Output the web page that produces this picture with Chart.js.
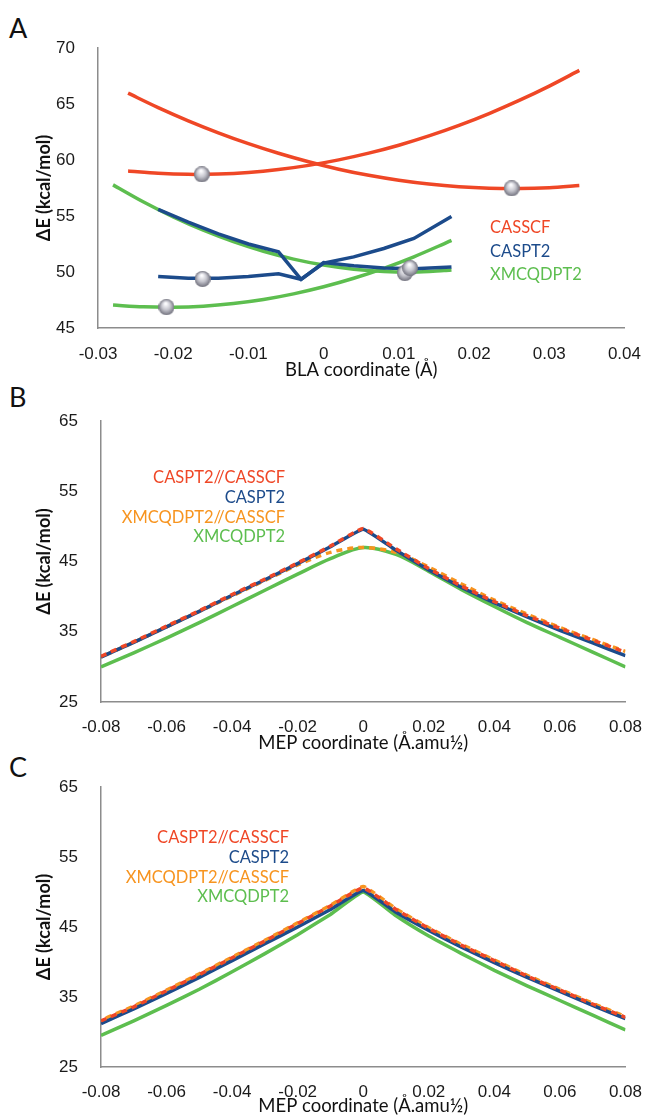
<!DOCTYPE html>
<html>
<head>
<meta charset="utf-8">
<script src="https://cdn.jsdelivr.net/npm/chart.js@4/dist/chart.umd.min.js"></script>
<style>
body { margin: 0; background: #fff; width: 649px; height: 1117px; position: relative; overflow: hidden; }
canvas { position: absolute; left: 0; }
.tag { position: absolute; left: 9px; font: 27px Lato, sans-serif; line-height: 30px; color: #111; }
</style>
</head>
<body>
<div class="tag" style="top:13px">A</div>
<div class="tag" style="top:382px">B</div>
<div class="tag" style="top:752px">C</div>
<canvas id="chartA" width="649" height="390" style="top:0"></canvas>
<canvas id="chartB" width="649" height="360" style="top:395px"></canvas>
<canvas id="chartC" width="649" height="357" style="top:760px"></canvas>
<script>
// ---- panel A : BLA scan ----
const blaRedX = [-0.026,-0.022,-0.018,-0.014,-0.010,-0.006,-0.002,0.002,0.006,0.010,0.014,0.018,0.022,0.026,0.030,0.034];
const casscfDown = [65.97,64.68,63.50,62.43,61.46,60.60,59.84,59.18,58.63,58.19,57.85,57.61,57.48,57.45,57.53,57.72];
const casscfUp = [59.01,58.81,58.72,58.75,58.89,59.15,59.52,60.01,60.61,61.32,62.15,63.09,64.15,65.32,66.60,68.00];

const blaGreenX = [-0.028,-0.024,-0.020,-0.016,-0.012,-0.008,-0.004,0,0.004,0.008,0.012,0.016,0.017];
const xmcDown = [57.78,56.27,54.92,53.73,52.71,51.85,51.15,50.62,50.25,50.05,50.0,50.13,50.18];
const xmcUp = [47.05,46.89,46.85,46.95,47.19,47.55,48.05,48.68,49.44,50.33,51.36,52.52,52.83];

const blaBlueX = [-0.022,-0.018,-0.014,-0.010,-0.006,-0.003,0,0.004,0.008,0.012,0.017];
const caspt2Down = [55.6,54.45,53.4,52.5,51.8,49.35,50.85,50.55,50.35,50.3,50.45];
const caspt2Up = [49.6,49.45,49.45,49.6,49.85,49.35,50.8,51.35,52.1,53.0,54.95];

const minimaX = [-0.0162,0.025,-0.0161,-0.0209,0.0108,0.0115];
const minimaY = [58.72,57.47,49.38,46.86,49.9,50.35];

const methodsA = ['CASSCF','CASPT2','XMCQDPT2'];

// ---- panels B and C : MEP ----
const mepX = [-0.08,-0.07,-0.06,-0.05,-0.04,-0.03,-0.02,-0.01,0,0.01,0.02,0.03,0.04,0.05,0.06,0.07,0.08];
const methodsBC = ['CASPT2//CASSCF','CASPT2','XMCQDPT2//CASSCF','XMCQDPT2'];

const bPt2Cas = [31.5,33.6,35.8,38.0,40.3,42.5,44.8,47.2,49.7,46.8,44.0,41.5,39.3,37.3,35.5,33.8,32.1];
const bPt2 = [31.4,33.5,35.7,37.9,40.2,42.4,44.7,47.1,49.6,46.6,43.8,41.3,39.1,37.1,35.2,33.4,31.6];
const bXmcCas = [31.4,33.5,35.7,37.9,40.1,42.3,44.5,46.3,47.0,46.3,44.2,41.8,39.5,37.5,35.6,33.9,32.2];
const bXmc = [30.0,32.0,34.1,36.3,38.6,40.9,43.2,45.4,47.0,46.0,43.6,41.0,38.6,36.3,34.2,32.1,30.0];

const cPt2Cas = [31.6,33.6,35.9,38.2,40.6,43.0,45.5,48.0,50.6,47.5,44.8,42.4,40.2,38.0,36.0,34.0,32.1];
const cPt2 = [31.2,33.3,35.5,37.8,40.2,42.6,45.0,47.5,50.2,47.1,44.5,42.1,39.9,37.8,35.8,33.8,31.9];
const cXmcCas = [31.7,33.7,36.0,38.3,40.7,43.1,45.6,48.1,50.8,47.6,44.9,42.5,40.3,38.1,36.1,34.1,32.2];
const cXmc = [29.5,31.6,33.8,36.1,38.6,41.2,43.9,46.8,50.0,46.6,43.7,41.2,38.8,36.6,34.5,32.4,30.3];

const RED = '#ef4726', BLUE = '#1c4b8b', GREEN = '#5dbe4f', ORANGE = '#f7941f';
const TICK_FONT = { family: '"Liberation Sans", Arial, sans-serif', size: 17 };

function pts(xs, ys) {
  return xs.map((x, i) => ({ x: x, y: ys[i] }));
}

function makeBall(r) {
  const c = document.createElement('canvas');
  c.width = c.height = r * 2;
  const g = c.getContext('2d');
  const grad = g.createRadialGradient(r * 0.9, r * 0.55, r * 0.1, r, r, r);
  grad.addColorStop(0, '#fdfdff');
  grad.addColorStop(0.5, '#c6c6ce');
  grad.addColorStop(1, '#72727e');
  g.fillStyle = grad;
  g.beginPath();
  g.arc(r, r, r, 0, Math.PI * 2);
  g.fill();
  return c;
}

// text legend drawn inside the plot
const textLegend = {
  id: 'textLegend',
  afterDatasetsDraw(chart, args, opts) {
    const ctx = chart.ctx, area = chart.chartArea;
    ctx.save();
    ctx.font = '16.5px Lato, sans-serif';
    ctx.textAlign = opts.align;
    ctx.textBaseline = 'middle';
    opts.names.forEach((t, i) => {
      ctx.fillStyle = opts.colors[i];
      ctx.fillText(t, area.left + opts.x, area.top + opts.y + i * opts.gap);
    });
    ctx.restore();
  }
};

function fmt(v) {
  return String(Number(v.toFixed(2)));
}

function baseOptions(o) {
  return {
    responsive: false,
    animation: false,
    layout: { padding: { top: o.top, right: o.right, left: 0, bottom: 0 } },
    plugins: {
      legend: { display: false },
      tooltip: { enabled: false },
      textLegend: o.legend
    },
    elements: { point: { radius: 0 } },
    scales: {
      x: {
        type: 'linear',
        min: o.xmin, max: o.xmax,
        grid: { display: false },
        border: { color: '#8c8c8c', width: 1.5 },
        ticks: { stepSize: o.xstep, color: '#1a1a1a', font: TICK_FONT, padding: o.xpad, callback: fmt, maxRotation: 0 },
        title: { display: true, text: o.xtitle, color: '#111', font: { family: 'Lato, sans-serif', size: 18.5 }, padding: { top: 0, bottom: o.xtitlePad } },
        afterFit: s => { s.height = o.xh; }
      },
      y: {
        min: o.ymin, max: o.ymax,
        grid: { display: false },
        border: { color: '#8c8c8c', width: 1.5 },
        ticks: { stepSize: o.ystep, color: '#1a1a1a', font: TICK_FONT, padding: 15 },
        title: { display: true, text: 'ΔE (kcal/mol)', color: '#111', font: { family: 'Lato, sans-serif', size: 18, weight: 'bold' }, padding: { top: 33, bottom: 0 } },
        afterFit: s => { s.width = o.yw; }
      }
    }
  };
}

function line(label, data, color, extra) {
  return Object.assign({
    label: label, data: data, borderColor: color, backgroundColor: color,
    borderWidth: 3.5, fill: false, tension: 0.3, pointRadius: 0
  }, extra || {});
}

// panel A
new Chart(document.getElementById('chartA'), {
  type: 'line',
  data: {
    datasets: [
      { label: 'minima', data: pts(minimaX, minimaY), showLine: false, pointStyle: makeBall(8), pointRadius: 8 },
      line('CASSCF', pts(blaRedX, casscfDown), RED),
      line('CASSCF', pts(blaRedX, casscfUp), RED),
      line('CASPT2', pts(blaBlueX, caspt2Down), BLUE, { tension: 0 }),
      line('CASPT2', pts(blaBlueX, caspt2Up), BLUE, { tension: 0 }),
      line('XMCQDPT2', pts(blaGreenX, xmcDown), GREEN),
      line('XMCQDPT2', pts(blaGreenX, xmcUp), GREEN)
    ]
  },
  options: baseOptions({
    top: 48, right: 20, xmin: -0.03, xmax: 0.04, xstep: 0.01, ymin: 45, ymax: 70, ystep: 5,
    xpad: 8, xh: 62, yw: 98, xtitle: 'BLA coordinate (Å)', xtitlePad: 9,
    legend: { names: methodsA, colors: [RED, BLUE, GREEN], align: 'left', x: 392, y: 180, gap: 23.5 }
  }),
  plugins: [textLegend]
});

function mepChart(id, series, o) {
  new Chart(document.getElementById(id), {
    type: 'line',
    data: {
      datasets: [
        line(methodsBC[0], pts(mepX, series[0]), RED, { borderDash: [6, 5], tension: 0.1 }),
        line(methodsBC[1], pts(mepX, series[1]), BLUE, { tension: 0.1 }),
        line(methodsBC[2], pts(mepX, series[2]), ORANGE, { borderDash: [6, 5], borderDashOffset: 5.5, tension: o.peakTension }),
        line(methodsBC[3], pts(mepX, series[3]), GREEN, { tension: o.peakTension })
      ]
    },
    options: baseOptions(Object.assign({
      xmin: -0.08, xmax: 0.08, xstep: 0.02, ymin: 25, ymax: 65, ystep: 10,
      xpad: 7, yw: 101, xtitle: 'MEP coordinate (Å.amu½)'
    }, o)),
    plugins: [textLegend]
  });
}

mepChart('chartB', [bPt2Cas, bPt2, bXmcCas, bXmc], {
  top: 26, right: 19, xh: 53, xtitlePad: 1, peakTension: 0.3,
  legend: { names: methodsBC, colors: [RED, BLUE, ORANGE, GREEN], align: 'right', x: 184, y: 57, gap: 19.6 }
});

mepChart('chartC', [cPt2Cas, cPt2, cXmcCas, cXmc], {
  top: 27, right: 18, xh: 50, xtitlePad: 0, peakTension: 0.1,
  legend: { names: methodsBC, colors: [RED, BLUE, ORANGE, GREEN], align: 'right', x: 188, y: 51, gap: 19.7 }
});
</script>
</body>
</html>
